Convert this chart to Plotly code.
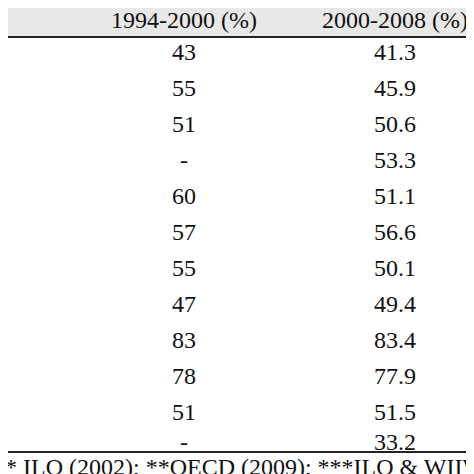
import plotly.graph_objects as go

headers = ["1994-2000 (%)", "2000-2008 (%)"]
col1 = ["43", "55", "51", "-", "60", "57", "55", "47", "83", "78", "51", "-"]
col2 = ["41.3", "45.9", "50.6", "53.3", "51.1", "56.6", "50.1", "49.4", "83.4", "77.9", "51.5", "33.2"]
footer = "* ILO (2002); **OECD (2009); ***ILO & WIIW"
row_y = [44, 80, 116, 152, 188, 224, 260, 296, 332, 368, 404, 434]

font = dict(family="Liberation Serif", size=24, color="#111")
fig = go.Figure()
fig.add_shape(type="rect", x0=0, x1=474, y0=0, y1=28, fillcolor="#e8e8e8", line_width=0, layer="below")
fig.add_shape(type="line", x0=0, x1=474, y0=29, y1=29, line=dict(color="#222", width=2))
fig.add_shape(type="line", x0=0, x1=474, y0=444, y1=444, line=dict(color="#222", width=2))
xs = [176, 387]
for x, h in zip(xs, headers):
    fig.add_annotation(x=x, y=12, text=h, showarrow=False, font=font)
for y, a, b in zip(row_y, col1, col2):
    fig.add_annotation(x=xs[0], y=y, text=a, showarrow=False, font=font)
    fig.add_annotation(x=xs[1], y=y, text=b, showarrow=False, font=font)
fig.add_annotation(x=0, y=459, text=footer, showarrow=False, font=font, xanchor="left", xshift=-5)
fig.update_xaxes(range=[0, 474], visible=False)
fig.update_yaxes(range=[474, 0], visible=False)
fig.update_layout(width=474, height=474, margin=dict(l=0, r=0, t=0, b=0),
                  plot_bgcolor="white", paper_bgcolor="white", showlegend=False)
fig.write_html("out.html")
